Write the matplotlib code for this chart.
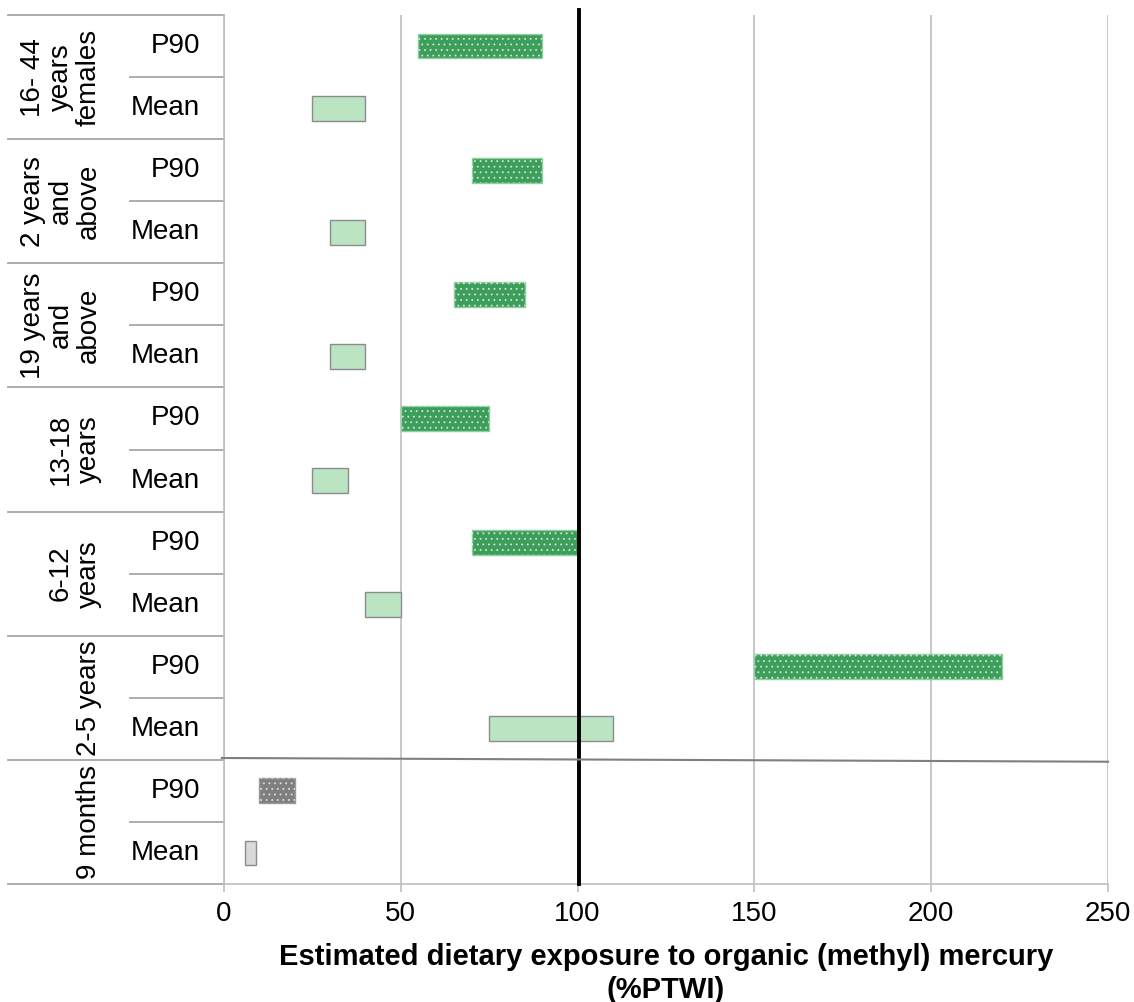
import matplotlib
matplotlib.use("Agg")
import matplotlib.pyplot as plt

plt.rcParams['font.family'] = ['Liberation Sans', 'DejaVu Sans']
plt.rcParams['hatch.linewidth'] = 0.7

# groups from top to bottom, each with a P90 and a Mean range
groups = ["16- 44\nyears\nfemales", "2 years\nand\nabove", "19 years\nand\nabove",
          "13-18\nyears", "6-12\nyears", "2-5 years", "9 months"]
sub_labels = ["P90", "Mean"]
p90_low = [55, 70, 65, 50, 70, 150, 10]
p90_high = [90, 90, 85, 75, 100, 220, 20]
mean_low = [25, 30, 30, 25, 40, 75, 6]
mean_high = [40, 40, 40, 35, 50, 110, 9]
ptwi_limit = 100
x_ticks = [0, 50, 100, 150, 200, 250]

green_dark = "#3d9e5b"
green_light = "#bbe4c2"
grey_dark = "#7f7f7f"
grey_light = "#d9d9d9"
line_grey = "#bfbfbf"

fig = plt.figure(figsize=(11.34, 10.02), dpi=100)
ax = fig.add_axes([224 / 1134, 1 - 884 / 1002, 884 / 1134, 869 / 1002])

n = len(groups)
for i in range(n):
    infant = groups[i] == "9 months"
    c90 = grey_dark if infant else green_dark
    cmean = grey_light if infant else green_light
    y90 = 2 * i
    ym = 2 * i + 1
    ax.barh(y90, p90_high[i] - p90_low[i], left=p90_low[i], height=0.4,
            color=c90, edgecolor="#8fcf9f" if not infant else "#9a9a9a", linewidth=1, zorder=3)
    ax.barh(y90, p90_high[i] - p90_low[i], left=p90_low[i], height=0.4,
            color="none", edgecolor=(1, 1, 1, 0.6), hatch="...", linewidth=0, zorder=4)
    ax.barh(ym, mean_high[i] - mean_low[i], left=mean_low[i], height=0.4,
            color=cmean, edgecolor="#8c8c8c", linewidth=1, zorder=3)

# reference line at 100 %PTWI
ax.axvline(ptwi_limit + 0.5, ymin=0, ymax=1.006, color="black", lw=2.8, zorder=5, clip_on=False)

ax.set_xlim(0, 250)
ax.set_ylim(2 * n - 0.5, -0.5)
ax.set_xticks(x_ticks)
ax.xaxis.grid(True, color=line_grey, lw=1.2)
ax.set_axisbelow(True)
ax.tick_params(axis='x', length=6, width=1.2, color=line_grey, labelsize=20, pad=6)
ax.set_yticks([])
for s in ["top", "right"]:
    ax.spines[s].set_visible(False)
ax.spines["left"].set_color(line_grey)
ax.spines["bottom"].set_color(line_grey)
ax.spines["left"].set_linewidth(1.2)
ax.spines["bottom"].set_linewidth(1.2)

ax.set_xlabel("Estimated dietary exposure to organic (methyl) mercury\n(%PTWI)",
              fontsize=21, fontweight="bold", labelpad=12, linespacing=1.2)

# category table on the left
tr = ax.get_yaxis_transform()
for i in range(n + 1):
    ax.plot([-0.244, 0], [2 * i - 0.5] * 2, transform=tr, color="#a6a6a6", lw=1.3, clip_on=False)
for i in range(n):
    ax.plot([-0.106, 0], [2 * i + 0.5] * 2, transform=tr, color="#a6a6a6", lw=1.3, clip_on=False)
    ax.text(-0.138, 2 * i + 0.5, groups[i], transform=tr, rotation=90, ha="right", va="center",
            multialignment="center", fontsize=20, linespacing=1.1)
    for k, lab in enumerate(sub_labels):
        ax.text(-0.027, 2 * i + k, lab, transform=tr, ha="right", va="center", fontsize=20)

# grey separator between infants and the rest
sep = 2 * (n - 1) - 0.5
ax.plot([-0.6, 250], [sep - 0.03, sep + 0.03], color="#7f7f7f", lw=1.5, zorder=6, clip_on=False)

fig.savefig("out.png", dpi=100)
